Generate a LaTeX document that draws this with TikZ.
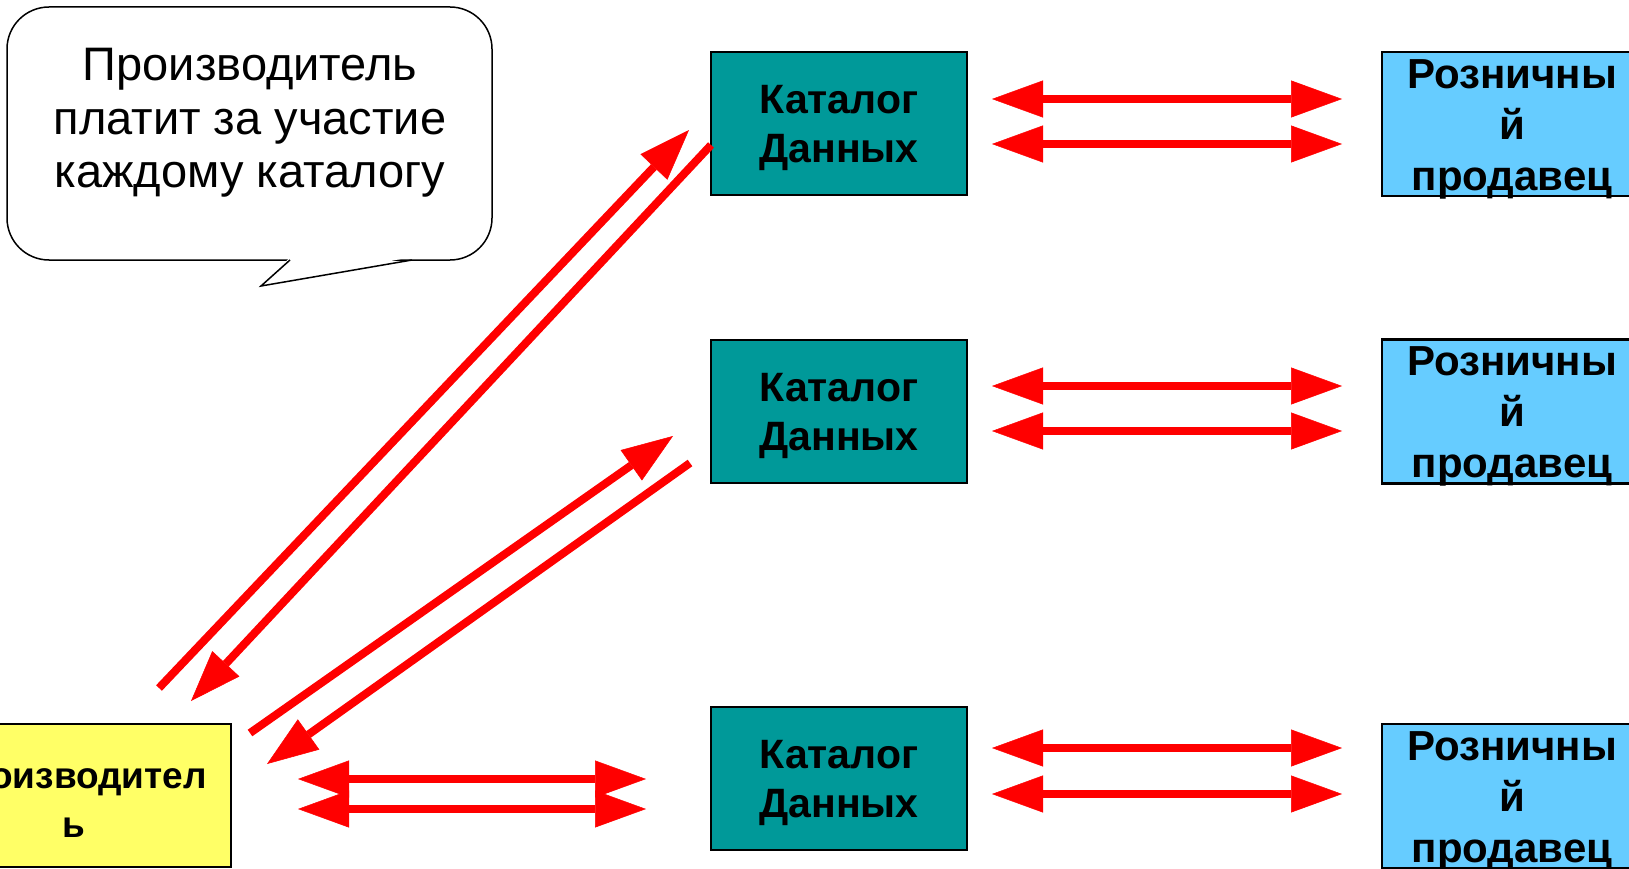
\documentclass[tikz,border=0pt]{standalone}
\usepackage{fontspec}
\setmainfont{Liberation Sans}
\usetikzlibrary{arrows.meta}
\definecolor{catteal}{HTML}{009999}
\definecolor{retblue}{HTML}{66CCFF}
\definecolor{prodyellow}{HTML}{FFFF66}
\definecolor{arrred}{HTML}{FF0000}
\begin{document}
\begin{tikzpicture}[x=1pt,y=-1pt,
  boxbase/.style={draw=black, line width=2.5pt, inner sep=0pt},
  catbox/.style={boxbase, fill=catteal, minimum width=256pt, minimum height=143pt},
  retbox/.style={boxbase, fill=retblue, minimum width=260pt, minimum height=144pt},
  prodbox/.style={boxbase, fill=prodyellow, minimum width=314pt, minimum height=143pt},
  cattext/.style={inner sep=0pt, align=center, font=\fontsize{41}{49}\selectfont\bfseries},
  rettext/.style={inner sep=0pt, align=center, font=\fontsize{42}{51}\selectfont\bfseries},
  prodtext/.style={inner sep=0pt, align=center, font=\fontsize{37}{49}\selectfont\bfseries},
  notetext/.style={inner sep=0pt, align=center, font=\fontsize{47}{53.5}\selectfont},
  redtip/.tip={Triangle[length=51pt, width=37pt, line width=0.5pt]},
  onearrow/.style={draw=arrred, line width=8pt, -redtip},
  twoarrow/.style={draw=arrred, line width=8pt, redtip-redtip}]
\useasboundingbox (0,0) rectangle (1629,869);
\clip (0,0) rectangle (1629,869);
\fill[white] (0,0) rectangle (1629,869);

% callout
\draw[line width=1.5pt, fill=white, rounded corners=42pt] (7,7) rectangle (492,260);
\fill[white] (290.5,257) -- (261,286) -- (411.5,257) -- cycle;
\draw[line width=1.5pt, line join=miter] (290,260) -- (261,286) -- (412,260);
\node[notetext] (note) at (250,123) {Производитель\\платит за участие\\каждому каталогу};

% boxes
\node[catbox] (cat1) at (839,123.5) {};
\node[catbox] (cat2) at (839,411.5) {};
\node[catbox] (cat3) at (839,778.5) {};
\node[retbox] (ret1) at (1512,124) {};
\node[retbox] (ret2) at (1512,411.5) {};
\node[retbox] (ret3) at (1512,796) {};
\node[prodbox] (prod) at (74,795.5) {};

\node[cattext] (cat1t) at ([yshift=-4pt]cat1.center) {Каталог\\Данных};
\node[cattext] (cat2t) at ([yshift=-4pt]cat2.center) {Каталог\\Данных};
\node[cattext] (cat3t) at ([yshift=-4pt]cat3.center) {Каталог\\Данных};
\node[rettext] (ret1t) at ([yshift=-5pt]ret1.center) {Розничны\\й\\продавец};
\node[rettext] (ret2t) at ([yshift=-5pt]ret2.center) {Розничны\\й\\продавец};
\node[rettext] (ret3t) at ([yshift=-5pt]ret3.center) {Розничны\\й\\продавец};
\node[prodtext] (prodt) at ([yshift=-5pt]prod.center) {Производител\\ь};

% arrow end points
\coordinate (aS) at (159,688);  \coordinate (aE) at (689,130);
\coordinate (bS) at (711,145);  \coordinate (bE) at (191,701);
\coordinate (cS) at (250,733);  \coordinate (cE) at (673,436);
\coordinate (dS) at (690,463);  \coordinate (dE) at (267,764);
\coordinate (p1L) at (298,779); \coordinate (p1R) at (646,779);
\coordinate (p2L) at (298,809); \coordinate (p2R) at (646,809);
\coordinate (r1aL) at (992,99);  \coordinate (r1aR) at (1342,99);
\coordinate (r1bL) at (992,144); \coordinate (r1bR) at (1342,144);
\coordinate (r2aL) at (992,386); \coordinate (r2aR) at (1342,386);
\coordinate (r2bL) at (992,431); \coordinate (r2bR) at (1342,431);
\coordinate (r3aL) at (992,748); \coordinate (r3aR) at (1342,748);
\coordinate (r3bL) at (992,794); \coordinate (r3bR) at (1342,794);

% diagonal arrows
\draw[onearrow] (aS) -- (aE);
\draw[onearrow] (bS) -- (bE);
\draw[onearrow] (cS) -- (cE);
\draw[onearrow] (dS) -- (dE);

% horizontal double arrows
\draw[twoarrow] (p1L) -- (p1R);
\draw[twoarrow] (p2L) -- (p2R);
\draw[twoarrow] (r1aL) -- (r1aR);
\draw[twoarrow] (r1bL) -- (r1bR);
\draw[twoarrow] (r2aL) -- (r2aR);
\draw[twoarrow] (r2bL) -- (r2bR);
\draw[twoarrow] (r3aL) -- (r3aR);
\draw[twoarrow] (r3bL) -- (r3bR);
\end{tikzpicture}
\end{document}
